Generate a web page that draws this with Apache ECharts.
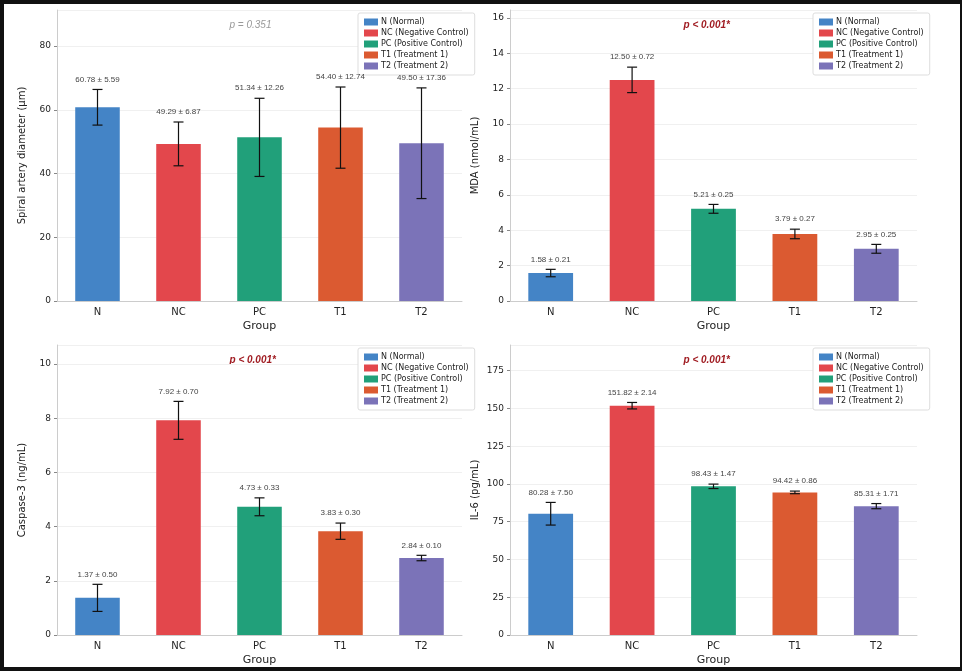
<!DOCTYPE html>
<html>
<head>
<meta charset="utf-8">
<script src="https://cdn.jsdelivr.net/npm/echarts@6/dist/echarts.min.js"></script>
<style>
  html, body { margin: 0; padding: 0; background: #fff; }
  #main { width: 962px; height: 671px; box-sizing: border-box; border: 4px solid #111; border-right-width: 2px; }
</style>
</head>
<body>
<div id="main"></div>
<script>
const groups = ['N', 'NC', 'PC', 'T1', 'T2'];
const legendNames = ['N (Normal)', 'NC (Negative Control)', 'PC (Positive Control)', 'T1 (Treatment 1)', 'T2 (Treatment 2)'];
const colors = ['#4484c6', '#e3474c', '#21a07a', '#db5a31', '#7b73b8'];

const spiralMean = [60.78, 49.29, 51.34, 54.40, 49.50];
const spiralSd = [5.59, 6.87, 12.26, 12.74, 17.36];
const mdaMean = [1.58, 12.50, 5.21, 3.79, 2.95];
const mdaSd = [0.21, 0.72, 0.25, 0.27, 0.25];
const caspMean = [1.37, 7.92, 4.73, 3.83, 2.84];
const caspSd = [0.50, 0.70, 0.33, 0.30, 0.10];
const il6Mean = [80.28, 151.82, 98.43, 94.42, 85.31];
const il6Sd = [7.50, 2.14, 1.47, 0.86, 1.71];

const panels = [
  { mean: spiralMean, sd: spiralSd, name: 'Spiral artery diameter (μm)', max: 91.3, interval: 20, p: 'p = 0.351', sig: false,
    grid: { left: 53, width: 405, top: 6, height: 291 } },
  { mean: mdaMean, sd: mdaSd, name: 'MDA (nmol/mL)', max: 16.45, interval: 2, p: 'p < 0.001*', sig: true,
    grid: { left: 506, width: 407, top: 6, height: 291 } },
  { mean: caspMean, sd: caspSd, name: 'Caspase-3 (ng/mL)', max: 10.7, interval: 2, p: 'p < 0.001*', sig: true,
    grid: { left: 53, width: 405, top: 341, height: 293 } },
  { mean: il6Mean, sd: il6Sd, name: 'IL-6 (pg/mL)', max: 192, interval: 25, p: 'p < 0.001*', sig: true,
    grid: { left: 506, width: 407, top: 341, height: 293 } }
];

const grids = [], xAxes = [], yAxes = [], series = [], legends = [], graphics = [];
const axisColor = '#cccccc';

panels.forEach(function (pn, k) {
  grids.push(pn.grid);
  xAxes.push({
    type: 'category', gridIndex: k, data: groups,
    name: 'Group', nameLocation: 'middle', nameGap: 20,
    nameTextStyle: { fontSize: 11, color: '#222' },
    axisLine: { lineStyle: { color: axisColor } },
    axisTick: { alignWithLabel: true, lineStyle: { color: '#888' }, length: 3 },
    axisLabel: { fontSize: 10, color: '#222', margin: 6 }
  });
  yAxes.push({
    type: 'value', gridIndex: k, min: 0, max: pn.max, interval: pn.interval,
    name: pn.name, nameLocation: 'middle', nameGap: 30,
    nameTextStyle: { fontSize: 10, color: '#222' },
    axisLine: { show: true, lineStyle: { color: axisColor } },
    axisTick: { show: true, lineStyle: { color: '#888' }, length: 3 },
    axisLabel: { fontSize: 9, color: '#222', margin: 6, showMaxLabel: false },
    splitLine: { lineStyle: { color: '#f0f0f0' } }
  });
  groups.forEach(function (g, i) {
    series.push({
      type: 'bar', name: legendNames[i], xAxisIndex: k, yAxisIndex: k,
      data: pn.mean.map(function (v, j) { return j === i ? v : '-'; }),
      barWidth: '55%', barGap: '-100%',
      itemStyle: { color: colors[i] }
    });
  });
  series.push({
    type: 'custom', xAxisIndex: k, yAxisIndex: k, z: 5, silent: true,
    data: pn.mean.map(function (v, j) { return [j, v, pn.sd[j]]; }),
    renderItem: function (params, api) {
      const x = api.value(0), m = api.value(1), s = api.value(2);
      const top = api.coord([x, m + s]), bot = api.coord([x, m - s]);
      const w = 5;
      const st = { stroke: '#111', lineWidth: 1.2 };
      return {
        type: 'group',
        children: [
          { type: 'line', shape: { x1: top[0], y1: top[1], x2: bot[0], y2: bot[1] }, style: st },
          { type: 'line', shape: { x1: top[0] - w, y1: top[1], x2: top[0] + w, y2: top[1] }, style: st },
          { type: 'line', shape: { x1: bot[0] - w, y1: bot[1], x2: bot[0] + w, y2: bot[1] }, style: st },
          { type: 'text', x: top[0], y: top[1] - 10,
            style: { text: m.toFixed(2) + ' ± ' + s.toFixed(2), fill: '#444', fontSize: 8, align: 'center', verticalAlign: 'middle' } }
        ]
      };
    }
  });
  legends.push({
    data: legendNames, orient: 'vertical',
    left: pn.grid.left + pn.grid.width - 104, top: pn.grid.top + 3,
    itemWidth: 14, itemHeight: 7, itemGap: 3, padding: [5, 6],
    backgroundColor: '#fff', borderColor: '#ddd', borderWidth: 1, borderRadius: 2,
    textStyle: { fontSize: 8, color: '#222', padding: [0, 0, 0, -2] },
    icon: 'rect', selectedMode: false
  });
  graphics.push({
    type: 'text', left: pn.grid.left + pn.grid.width / 2 - 30, top: pn.grid.top + 10,
    style: {
      text: pn.p, fontSize: 10, fontStyle: 'italic',
      fontWeight: pn.sig ? 'bold' : 'normal',
      fill: pn.sig ? '#a01c22' : '#999'
    }
  });
});

const chart = echarts.init(document.getElementById('main'));
chart.setOption({
  animation: false,
  textStyle: { fontFamily: 'DejaVu Sans' },
  grid: grids, xAxis: xAxes, yAxis: yAxes, series: series,
  legend: legends, graphic: graphics
});
</script>
</body>
</html>
